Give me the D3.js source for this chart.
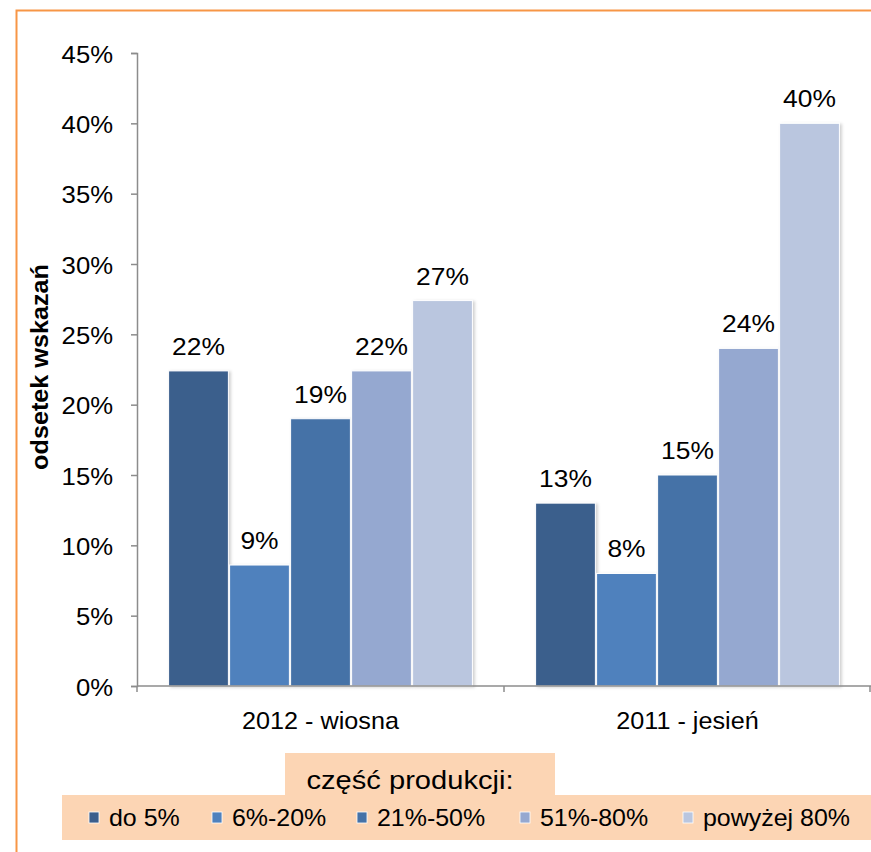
<!DOCTYPE html>
<html>
<head>
<meta charset="UTF-8">
<title></title>
<style>
  body { margin: 0; background: #fff; }
  text { font-family: "Liberation Sans", Arial, sans-serif; }
</style>
</head>
<body>
<svg width="871" height="852"></svg>
<script src="https://cdn.jsdelivr.net/npm/d3@7/dist/d3.min.js"></script>
<script>
// dane
var categories = ["2012 - wiosna", "2011 - jesień"];
var series = ["do 5%", "6%-20%", "21%-50%", "51%-80%", "powyżej 80%"];
var colors = ["#3B5E8C", "#4F81BD", "#4572A7", "#95A8D0", "#BAC6DF"];
var values2012 = [0.224, 0.086, 0.19, 0.224, 0.274];
var values2011 = [0.13, 0.08, 0.15, 0.24, 0.40];
var yTicks = [0, 0.05, 0.1, 0.15, 0.2, 0.25, 0.3, 0.35, 0.4, 0.45];

var rows = [values2012, values2011];
var svg = d3.select("svg");
var pct = d3.format(".0%");

// tekst w oryginale jest trochę szerszy
function stretch(x, y, s) { return "translate(" + x + "," + y + ") scale(" + s + ",1)"; }

var defs = svg.append("defs");
var f = defs.append("filter").attr("id", "sh").attr("x", "-10%").attr("y", "-10%").attr("width", "130%").attr("height", "130%");
f.append("feDropShadow").attr("dx", 2).attr("dy", 1).attr("stdDeviation", 1.5)
  .attr("flood-color", "#000").attr("flood-opacity", 0.18);

// ramka
svg.append("path").attr("d", "M16.5,852 V10.5 H871")
  .attr("fill", "none").attr("stroke", "#F79646").attr("stroke-width", 2);

var y = d3.scaleLinear().domain([0, 0.45]).range([686, 53]);
var x0 = d3.scaleBand().domain(categories).range([137, 871]);
var x1 = d3.scaleBand().domain(series).range([0, x0.bandwidth()])
  .paddingInner(0.02).paddingOuter(0.518);

// oś Y
var yAxis = svg.append("g").attr("transform", "translate(137,0)")
  .call(d3.axisLeft(y).tickValues(yTicks).tickFormat(pct).tickSize(6));
yAxis.select(".domain").attr("stroke", "#8c8c8c").attr("stroke-width", 1.5);
yAxis.selectAll(".tick line").attr("stroke", "#8c8c8c").attr("stroke-width", 1.5);
yAxis.selectAll(".tick text").attr("font-size", 24).attr("fill", "#000")
  .attr("font-family", "Liberation Sans, Arial, sans-serif")
  .attr("x", 0).attr("dy", "0.38em").attr("transform", stretch(-24, 0, 1.07));

// słupki
var groups = svg.selectAll(".grp").data(rows).enter().append("g")
  .attr("transform", function(d, i) { return "translate(" + x0(categories[i]) + ",0)"; });

groups.selectAll("rect").data(function(d) { return d; }).enter().append("rect")
  .attr("x", function(d, i) { return x1(series[i]); })
  .attr("y", function(d) { return y(d); })
  .attr("width", x1.bandwidth())
  .attr("height", function(d) { return y(0) - y(d); })
  .attr("fill", function(d, i) { return colors[i]; })
  .attr("stroke", "#fff").attr("stroke-width", 1)
  .attr("filter", "url(#sh)");

groups.selectAll(".lbl").data(function(d) { return d; }).enter().append("text")
  .attr("transform", function(d, i) { return stretch(x1(series[i]) + x1.bandwidth() / 2, y(d) - 16, 1.1); })
  .attr("text-anchor", "middle").attr("font-size", 24).attr("fill", "#000")
  .text(function(d) { return pct(d); });

// oś X
var xAxis = svg.append("g").attr("transform", "translate(0,686)");
xAxis.append("line").attr("x1", 137).attr("x2", 871).attr("y1", 0).attr("y2", 0)
  .attr("stroke", "#8c8c8c").attr("stroke-width", 1.5);
xAxis.selectAll(".tk").data(categories).enter().append("line")
  .attr("x1", function(d) { return x0(d); }).attr("x2", function(d) { return x0(d); })
  .attr("y1", 0).attr("y2", 6).attr("stroke", "#8c8c8c").attr("stroke-width", 1.5);
xAxis.append("line").attr("x1", 870).attr("x2", 870).attr("y1", 0).attr("y2", 6)
  .attr("stroke", "#8c8c8c").attr("stroke-width", 1.5);
xAxis.selectAll(".cl").data(categories).enter().append("text")
  .attr("transform", function(d) { return stretch(x0(d) + x0.bandwidth() / 2, 43, 1.05); })
  .attr("text-anchor", "middle").attr("font-size", 24).attr("fill", "#000")
  .text(function(d) { return d; });

// tytuł osi Y
svg.append("text").attr("transform", "translate(48,367) rotate(-90) scale(1.05,1)")
  .attr("text-anchor", "middle").attr("font-size", 24).attr("font-weight", "bold")
  .text("odsetek wskazań");

// legenda
svg.append("rect").attr("x", 285).attr("y", 753).attr("width", 270).attr("height", 43).attr("fill", "#FCD5B4");
svg.append("rect").attr("x", 62).attr("y", 795).attr("width", 809).attr("height", 45).attr("fill", "#FCD5B4");
svg.append("text").attr("transform", stretch(410, 789, 1.12))
  .attr("text-anchor", "middle").attr("font-size", 26).text("część produkcji:");

var legX = [89, 212, 357, 520, 683];
var leg = svg.selectAll(".leg").data(series).enter().append("g")
  .attr("transform", function(d, i) { return "translate(" + legX[i] + ",812)"; });
leg.append("rect").attr("width", 10).attr("height", 11)
  .attr("fill", function(d, i) { return colors[i]; }).attr("stroke", "#fff").attr("stroke-width", 0.8);
leg.append("text").attr("transform", stretch(20, 14, 1.04)).attr("font-size", 24)
  .text(function(d) { return d; });
</script>
</body>
</html>
